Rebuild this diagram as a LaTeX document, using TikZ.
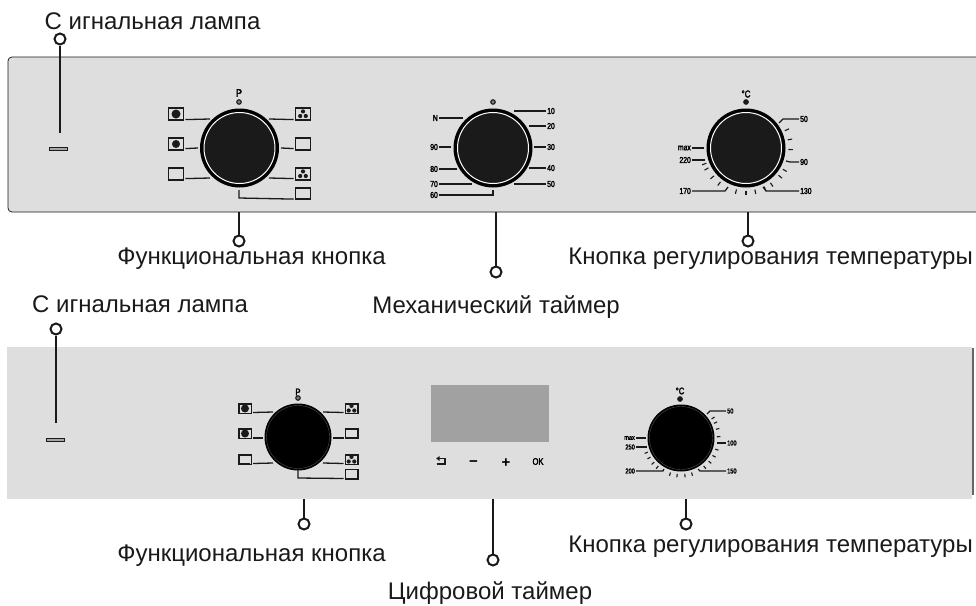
\documentclass[tikz,border=0pt]{standalone}
\usepackage{fontspec}
\setmainfont{Liberation Sans}
\newfontfamily\tinyf[FakeStretch=0.8,FakeBold=2.5]{Liberation Sans}
\definecolor{panel}{HTML}{DEDEDE}
\definecolor{ink}{HTML}{1A1A1A}
\tikzset{
 capt/.style={font=\fontsize{24}{26}\selectfont,text=ink,inner sep=0pt},
 ring/.style={circle,draw=ink,line width=2pt,fill=none,minimum size=11pt,inner sep=0pt},
 pole/.style={draw=ink,line width=2pt},
 lab/.style={font=\tinyf\fontsize{8.5}{9}\selectfont,text=black,inner sep=1pt},
 slab/.style={font=\tinyf\fontsize{7}{8}\selectfont,text=black,inner sep=1pt},
 big/.style={font=\tinyf\fontsize{11}{11}\selectfont,text=black,inner sep=0pt},
 wire/.style={draw=ink,line width=1.3pt},
 tik/.style={draw=ink,line width=1.1pt},
 ibox/.style={draw=ink,line width=1.7pt,fill=panel,inner sep=0pt,minimum width=15pt,minimum height=11.5pt},
 sbox/.style={draw=ink,line width=1.5pt,fill=panel,inner sep=0pt,minimum width=12.5pt,minimum height=9.5pt},
 lamp/.style={draw=ink,line width=.7pt,fill=gray!70,minimum width=18pt,minimum height=3pt,inner sep=0pt},
 dotn/.style={circle,draw=ink,line width=1.1pt,fill=gray,minimum size=4.5pt,inner sep=0pt},
}
% fan glyph inside a box
\newcommand{\fanicon}[1]{\fill[ink] (#1.center)++(0,-2.6) circle (2.1) ++(-2.8,4.6) circle (2.1) ++(5.6,0) circle (2.1);}
\begin{document}
\begin{tikzpicture}[x=1pt,y=-1pt]
\useasboundingbox (0,0) rectangle (976,605);
\fill[white] (0,0) rectangle (976,605);
% panels
\path[fill=panel] (976,57) -- (12,57) -- (8,61) -- (8,208) -- (12,212) -- (976,212) -- cycle;
\draw[ink,line width=.8pt,rounded corners=4pt] (976,57) -- (8,57) -- (8,212) -- (976,212);
\fill[panel] (7,347) rectangle (972,499);
\draw[gray!80!black,line width=1.6pt] (973,348) -- (973,495);

% captions
\node[capt] (t1) at (152.5,21) {С игнальная лампа};
\node[capt] (t2) at (251.5,259) {Функциональная кнопка};
\node[capt] (t3) at (496,307) {Механический таймер};
\node[capt] (t4) at (770.5,259) {Кнопка регулирования температуры};
\node[capt] (t5) at (140,304) {С игнальная лампа};
\node[capt] (t6) at (251.5,556) {Функциональная кнопка};
\node[capt] (t7) at (490,593) {Цифровой таймер};
\node[capt] (t8) at (770.5,547) {Кнопка регулирования температуры};

% lamps
\node[lamp] (l1) at (58,148.5) {};
\node[lamp] (l2) at (55,439.5) {};

% callouts
\node[ring] (c1) at (60,39) {};
\coordinate (e1) at (60,133);
\draw[pole] (c1) -- (e1);
\node[ring] (c2) at (239,241) {};
\coordinate (e2) at (239,212);
\draw[pole] (c2) -- (e2);
\node[ring] (c3) at (496,272) {};
\coordinate (e3) at (496,212);
\draw[pole] (c3) -- (e3);
\node[ring] (c4) at (748,241) {};
\coordinate (e4) at (748,212);
\draw[pole] (c4) -- (e4);
\node[ring] (c5) at (56,329) {};
\coordinate (e5) at (56,423);
\draw[pole] (c5) -- (e5);
\node[ring] (c6) at (304,524) {};
\coordinate (e6) at (304,499);
\draw[pole] (c6) -- (e6);
\node[ring] (c7) at (493,560) {};
\coordinate (e7) at (493,499);
\draw[pole] (c7) -- (e7);
\node[ring] (c8) at (686,524) {};
\coordinate (e8) at (686,499);
\draw[pole] (c8) -- (e8);

% ---------- top knobs
\foreach \n/\x in {k1/239.5,k2/493,k3/746}{
 \node[circle,fill=black,minimum size=79pt,inner sep=0pt] (\n) at (\x,148) {};
 \node[circle,draw=white,line width=1pt,fill=ink,minimum size=71pt,inner sep=0pt] at (\x,148) {};
}
% top function selector
\node[big] (p1) at (239,93) {P};
\node[dotn] (d1) at (239,102) {};
\node[ibox] (a1) at (176,114) {};
\node[ibox] (a2) at (176,144) {};
\node[ibox] (a3) at (176,174) {};
\node[ibox] (a4) at (303,114) {};
\node[ibox] (a5) at (303,144) {};
\node[ibox] (a6) at (303,174) {};
\node[ibox] (a7) at (303,193.5) {};
\draw[wire] (a1.south east) ++(1,-1) -- (210,119);
\draw[wire] (a2.south east) ++(1,-2) -- (198,148);
\draw[wire] (a3.south east) ++(1,-2) -- (210,178);
\draw[wire] (a4.south west) ++(-1,-1) -- (269,119);
\draw[wire] (a5.south west) ++(-1,-2) -- (281,148);
\draw[wire] (a6.south west) ++(-1,-2) -- (269,178);
\draw[wire] (a7.south west) ++(-1,-1) -- (239,198) -- (239,190);
\fill[ink] (a1.center) circle (4.5);
\fill[ink] (a2.center) circle (4);
\draw[ink,line width=2pt] (a3.south west) ++(1,-1) -- ++(14,0);
\fanicon{a4}
\draw[ink,line width=2pt] (a5.north west) ++(1,1) -- ++(14,0);
\draw[ink,line width=2pt] (a5.south west) ++(1,-1) -- ++(14,0);
\fanicon{a6}

% top timer
\node[dotn] (d2) at (493,102) {};
\foreach \nm/\t/\y/\xa in {g1/10/111/514,g2/20/126/529,g3/30/147/534,g4/40/168/529,g5/50/184/514}{
 \node[lab,anchor=west] (\nm) at (546,\y) {\t};
 \draw[wire] (\nm.west) -- (\xa,\y);
}
\foreach \nm/\t/\y/\xa in {h1/N/118/463,h2/90/147/451,h3/80/169/457,h4/70/184/472}{
 \node[lab,anchor=east] (\nm) at (439,\y) {\t};
 \draw[wire] (\nm.east) -- (\xa,\y);
}
\node[lab,anchor=east] (h5) at (439,195) {60};
\draw[wire] (h5.east) -- (493,195) -- (493,190);

% top temperature
\node[big,font=\tinyf\fontsize{10}{10}\selectfont] (p3) at (746,94) {°C};
\node[dotn,fill=ink] (d3) at (746,102) {};
\node[lab,anchor=west] (q1) at (799,119) {50};
\draw[wire] (q1.west) -- (783,119) -- (779,123);
\node[lab,anchor=west] (q2) at (799,162) {90};
\draw[wire] (q2.west) -- (790,162) -- (786,161);
\node[lab,anchor=west] (q3) at (799,191) {130};
\draw[wire] (q3.west) -- (766,191) -- (763,187);
\node[lab,anchor=east] (q4) at (692,191) {170};
\draw[wire] (q4.east) -- (725,191) -- (728,187);
\node[lab,anchor=east] (q5) at (692,160) {220};
\draw[wire] (q5.east) -- (705,160);
\node[lab,anchor=east] (q6) at (692,148) {max};
\draw[wire] (q6.east) -- (704,148);
\foreach \a in {24,11,-2,-30,-40,-55,-65,-78,-90,-103,-127,-139,-152,-159}{
 \draw[tik] ([shift={(-\a:42.5)}]k3.center) -- ([shift={(-\a:47)}]k3.center);
}

% ---------- bottom knobs
\foreach \n/\x/\y in {k4/298/437,k5/681/438}{
 \node[circle,fill=black,minimum size=67pt,inner sep=0pt] (\n) at (\x,\y) {};
 \node[circle,draw=gray!60!black,line width=.4pt,fill=black,minimum size=63pt,inner sep=0pt] at (\x,\y) {};
}
\node[big,font=\tinyf\fontsize{9.5}{10}\selectfont] (p4) at (298,392) {P};
\node[dotn] (d4) at (298,398) {};
\node[sbox] (b1) at (245,408.5) {};
\node[sbox] (b2) at (245,433.5) {};
\node[sbox] (b3) at (245,459.5) {};
\node[sbox] (b4) at (351.5,408.5) {};
\node[sbox] (b5) at (351.5,433.5) {};
\node[sbox] (b6) at (351.5,459.5) {};
\node[sbox] (b7) at (351.5,474) {};
\draw[wire] (b1.south east) ++(1,-1.5) -- (273,412);
\draw[wire] (b2.south east) ++(1,-1) -- (263,438);
\draw[wire] (b3.south east) ++(1,-1.5) -- (273,463);
\draw[wire] (b4.south west) ++(-1,-1.5) -- (323,412);
\draw[wire] (b5.south west) ++(-1,-1) -- (333,438);
\draw[wire] (b6.south west) ++(-1,-1.5) -- (323,463);
\draw[wire] (b7.south west) ++(-1,-1) -- (298,478) -- (298,470);
\fill[ink] (b1.center) circle (4);
\fill[ink] (b2.center) circle (4);
\draw[ink,line width=1.6pt] (b3.south west) ++(1,-1) -- ++(11,0);
\fanicon{b4}
\draw[ink,line width=1.6pt] (b5.north west) ++(1,1) -- ++(11,0);
\draw[ink,line width=1.6pt] (b5.south west) ++(1,-1) -- ++(11,0);
\fanicon{b6}

% digital timer
\node[minimum width=118pt,minimum height=57pt,inner sep=0pt,fill=black!37] (disp) at (490,413.5) {};
\node[inner sep=0pt,minimum size=10pt] (s1) at (441,461) {};
\draw[ink,line width=1.2pt] (s1.center)++(-2,-2.5) -- ++(6,0) -- ++(0,5.5);
\draw[ink,line width=1.8pt] (s1.center)++(-4.5,3) -- ++(9.5,0);
\fill[ink] (s1.center)++(-4.8,-2.5) -- ++(3.4,-2.5) -- ++(0,5) -- cycle;
\node[big,font=\bfseries\fontsize{15}{15}\selectfont] (s2) at (473.5,463.5) {−};
\node[big,font=\bfseries\fontsize{15}{15}\selectfont] (s3) at (506,463.5) {+};
\node[big,font=\tinyf\fontsize{9.5}{10}\selectfont] (s4) at (538,461.5) {OK};

% bottom temperature
\node[big,font=\tinyf\fontsize{9.5}{10}\selectfont] (p5) at (680,391) {°C};
\node[dotn,fill=ink] (d5) at (680,399) {};
\node[slab,anchor=west] (r1) at (726,411) {50};
\draw[wire] (r1.west) -- (710,411) -- (707,414);
\node[slab,anchor=west] (r2) at (726,443) {100};
\draw[wire] (r2.west) -- (717,443);
\node[slab,anchor=west] (r3) at (726,471) {150};
\draw[wire] (r3.west) -- (700,471) -- (698,469);
\node[slab,anchor=east] (r4) at (636,471) {200};
\draw[wire] (r4.east) -- (663,471) -- (664,469);
\node[slab,anchor=east] (r5) at (636,447) {250};
\draw[wire] (r5.east) -- (647,447);
\node[slab,anchor=east] (r6) at (636,438) {max};
\draw[wire] (r6.east) -- (646,438);
\foreach \a in {32,24,14,2,-18,-29,-40,-51,-73,-84,-96,-107,-129,-138,-148,-157}{
 \draw[tik] ([shift={(-\a:36)}]k5.center) -- ([shift={(-\a:39.5)}]k5.center);
}
\end{tikzpicture}
\end{document}
